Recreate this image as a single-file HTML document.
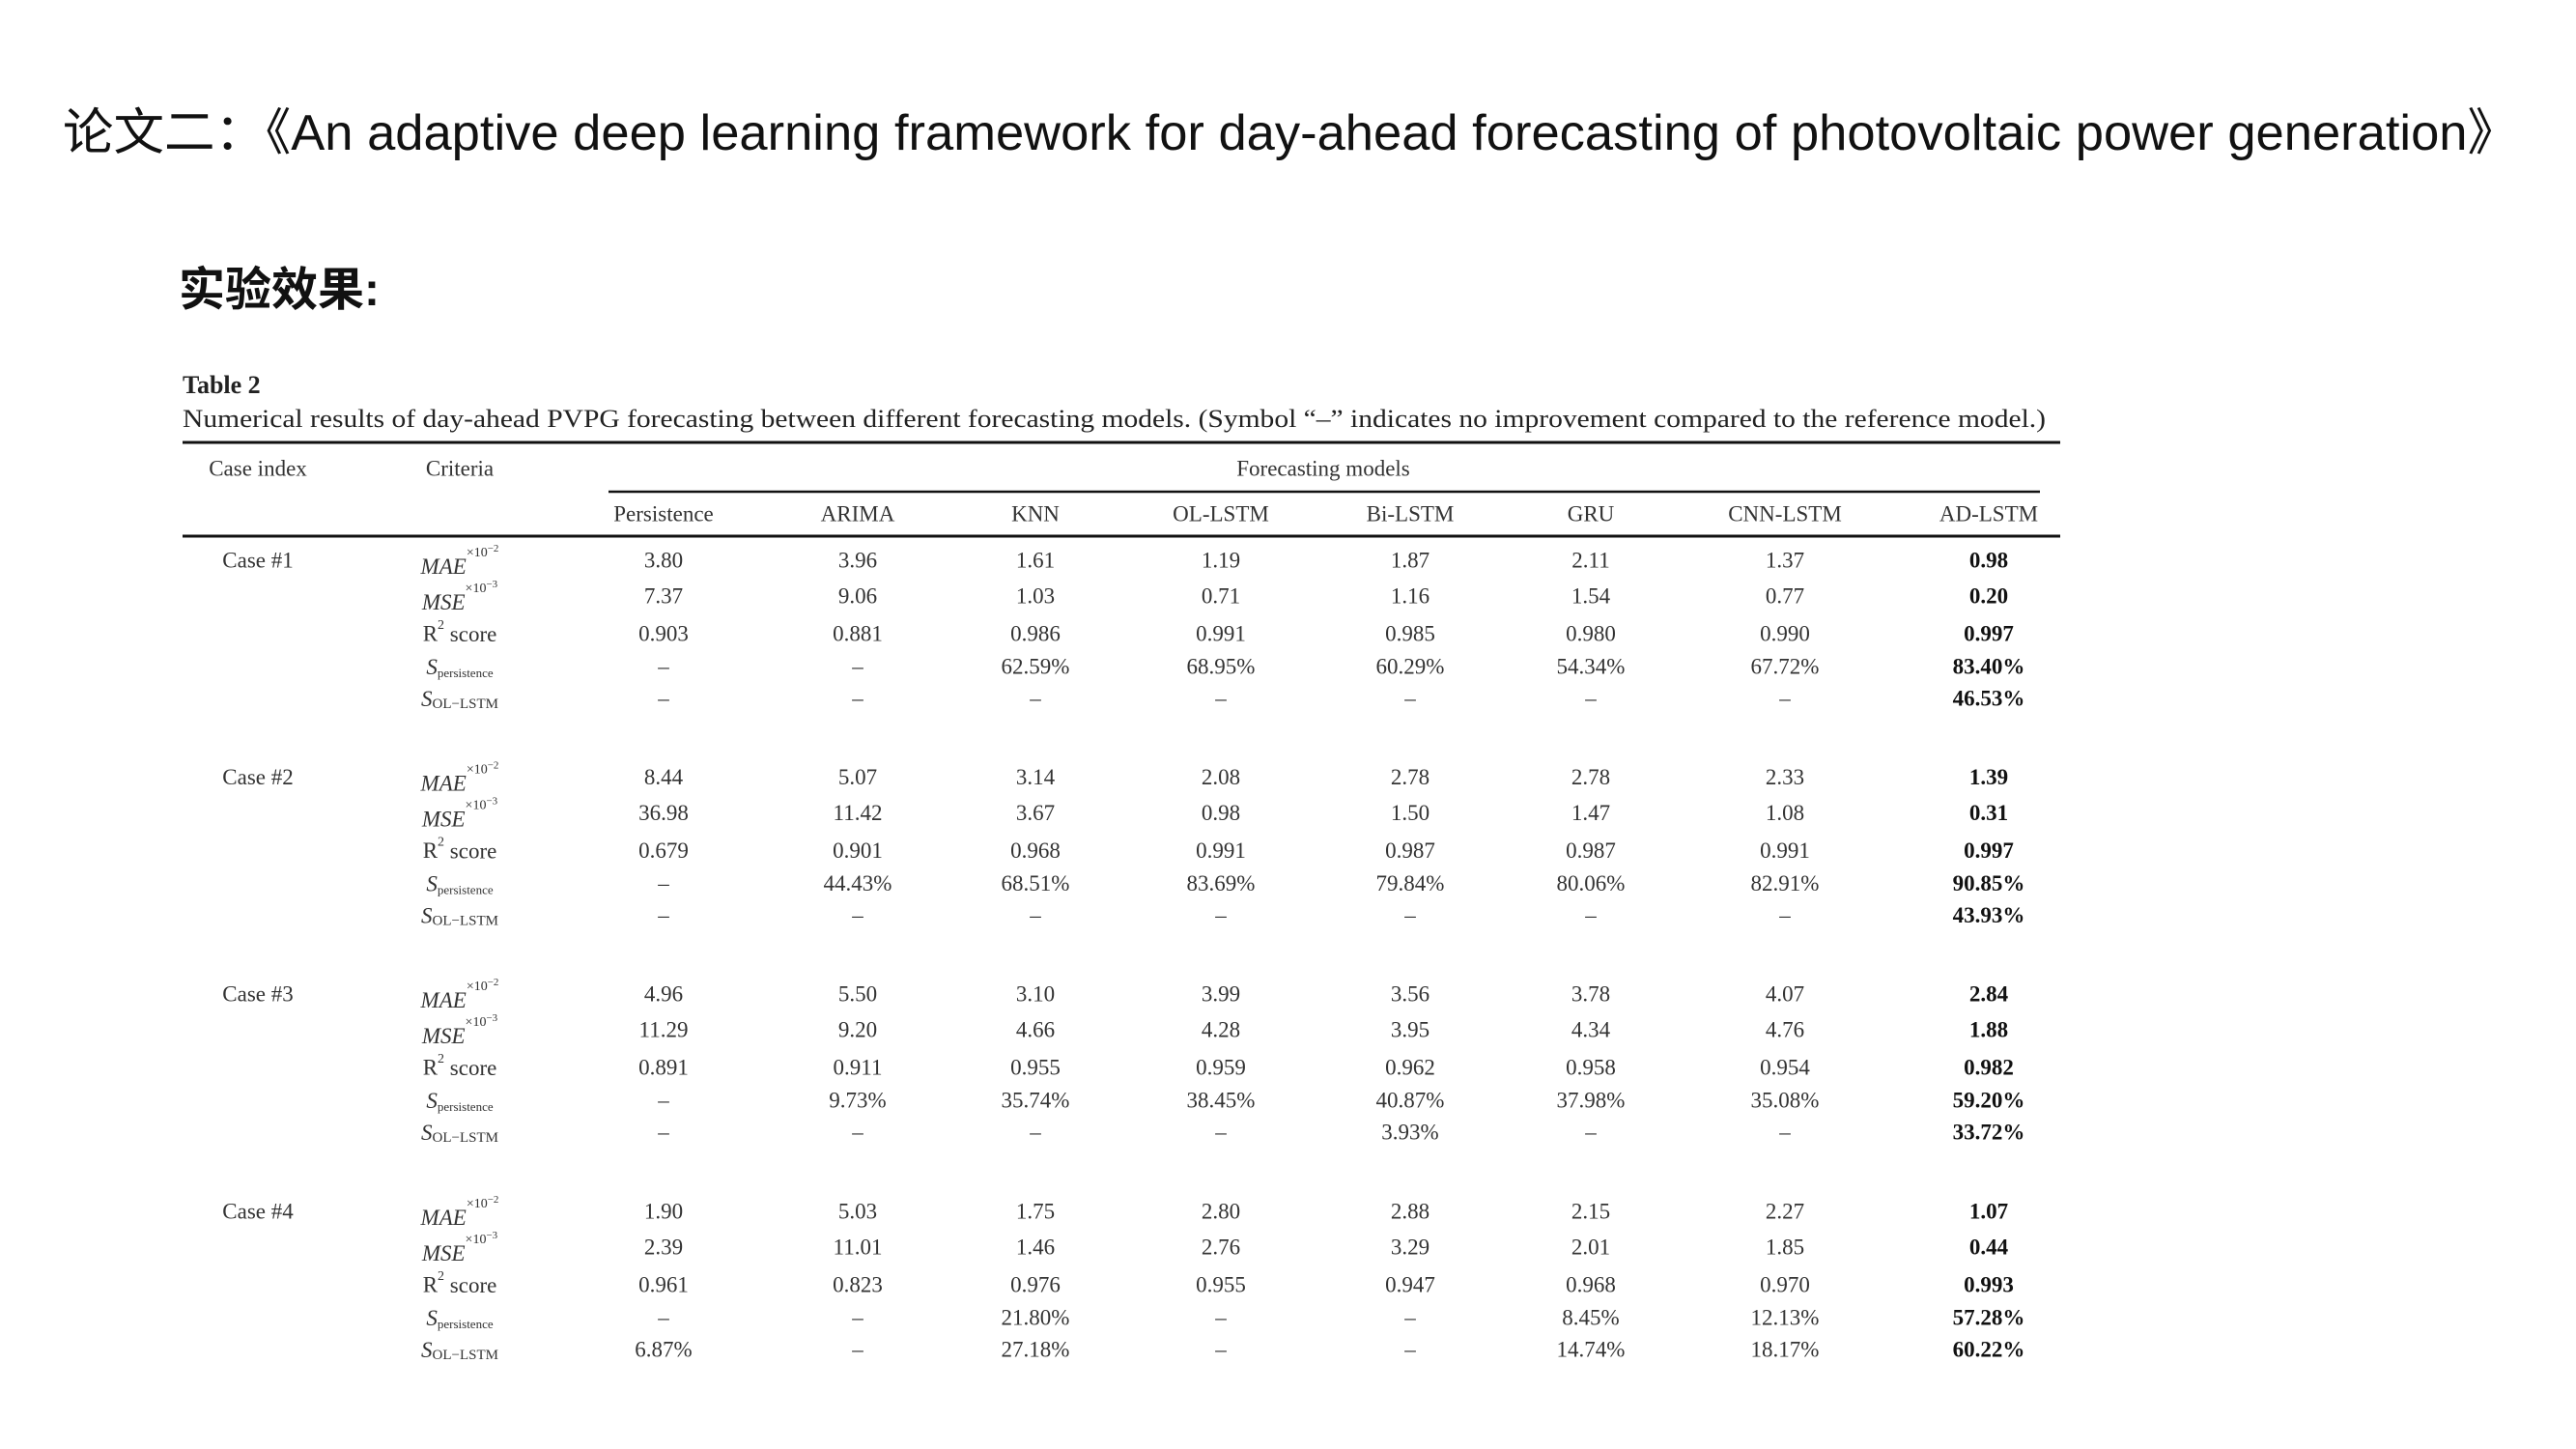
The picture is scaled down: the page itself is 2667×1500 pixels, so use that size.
<!DOCTYPE html>
<html><head><meta charset="utf-8"><style>
html,body{margin:0;padding:0;background:#fff;}
svg{display:block;}
</style></head><body>
<svg id="s" width="2667" height="1500" viewBox="0 0 2667 1500" xmlns="http://www.w3.org/2000/svg">
<text x="65" y="155" font-family="'Liberation Sans','Noto Sans CJK SC',sans-serif" font-size="52" fill="#111" textLength="2542" lengthAdjust="spacingAndGlyphs">论文二：《An adaptive deep learning framework for day-ahead forecasting of photovoltaic power generation》</text>
<text x="185" y="316" font-family="'Liberation Sans','Noto Sans CJK SC',sans-serif" font-size="48" font-weight="bold" fill="#111">实验效果:</text>
<text x="189" y="407" font-family="'Liberation Serif',serif" font-size="26" font-weight="bold" fill="#222">Table 2</text>
<text x="189" y="442" font-family="'Liberation Serif',serif" font-size="26" fill="#222" textLength="1929" lengthAdjust="spacingAndGlyphs">Numerical results of day-ahead PVPG forecasting between different forecasting models. (Symbol “–” indicates no improvement compared to the reference model.)</text>
<line x1="189" y1="458" x2="2133" y2="458" stroke="#111" stroke-width="3"/>
<line x1="630" y1="509" x2="2112" y2="509" stroke="#111" stroke-width="2.5"/>
<line x1="189" y1="555" x2="2133" y2="555" stroke="#111" stroke-width="3"/>
<g id="tbl" font-family="'Liberation Serif',serif" font-size="23" fill="#333"></g>
</svg>
<script>
const models = ["Persistence","ARIMA","KNN","OL-LSTM","Bi-LSTM","GRU","CNN-LSTM","AD-LSTM"];
const cases = ["Case #1","Case #2","Case #3","Case #4"];
const case1 = [
 ["3.80","3.96","1.61","1.19","1.87","2.11","1.37","0.98"],
 ["7.37","9.06","1.03","0.71","1.16","1.54","0.77","0.20"],
 ["0.903","0.881","0.986","0.991","0.985","0.980","0.990","0.997"],
 ["–","–","62.59%","68.95%","60.29%","54.34%","67.72%","83.40%"],
 ["–","–","–","–","–","–","–","46.53%"]];
const case2 = [
 ["8.44","5.07","3.14","2.08","2.78","2.78","2.33","1.39"],
 ["36.98","11.42","3.67","0.98","1.50","1.47","1.08","0.31"],
 ["0.679","0.901","0.968","0.991","0.987","0.987","0.991","0.997"],
 ["–","44.43%","68.51%","83.69%","79.84%","80.06%","82.91%","90.85%"],
 ["–","–","–","–","–","–","–","43.93%"]];
const case3 = [
 ["4.96","5.50","3.10","3.99","3.56","3.78","4.07","2.84"],
 ["11.29","9.20","4.66","4.28","3.95","4.34","4.76","1.88"],
 ["0.891","0.911","0.955","0.959","0.962","0.958","0.954","0.982"],
 ["–","9.73%","35.74%","38.45%","40.87%","37.98%","35.08%","59.20%"],
 ["–","–","–","–","3.93%","–","–","33.72%"]];
const case4 = [
 ["1.90","5.03","1.75","2.80","2.88","2.15","2.27","1.07"],
 ["2.39","11.01","1.46","2.76","3.29","2.01","1.85","0.44"],
 ["0.961","0.823","0.976","0.955","0.947","0.968","0.970","0.993"],
 ["–","–","21.80%","–","–","8.45%","12.13%","57.28%"],
 ["6.87%","–","27.18%","–","–","14.74%","18.17%","60.22%"]];
const allCases = [case1,case2,case3,case4];

const NS="http://www.w3.org/2000/svg";
const g=document.getElementById('tbl');
const colX=[687,888,1072,1264,1460,1647,1848,2059];
const rowOff=[0,37,76,110,143];
const caseY0=580, caseStep=224.6;
function t(x,y,str,anchor){
  const e=document.createElementNS(NS,'text');
  e.setAttribute('x',x);e.setAttribute('y',y);
  e.setAttribute('text-anchor',anchor||'middle');
  e.setAttribute('dominant-baseline','central');
  e.textContent=str;g.appendChild(e);return e;
}
let e;
e=t(267,485,"Case index");


e=t(476,485,"Criteria");


e=t(1370,485,"Forecasting models");


models.forEach((m,i)=>{
  const h=t(colX[i],532,m);
  
  
});
function crit(y,k){
  const e=document.createElementNS(NS,'text');
  e.setAttribute('x',476);e.setAttribute('y',y);
  e.setAttribute('text-anchor','middle');e.setAttribute('dominant-baseline','central');
  if(k===0||k===1){
    e.innerHTML='<tspan font-style="italic" dy="6">'+(k?'MSE':'MAE')+'</tspan><tspan font-size="14" dy="-14">×10<tspan font-size="11" dy="-4">−'+(k?3:2)+'</tspan></tspan>';
  }else if(k===2){
    e.innerHTML='R<tspan font-size="14" dy="-9">2</tspan><tspan dy="9"> score</tspan>';
  }else if(k===3){
    e.innerHTML='<tspan font-style="italic">S</tspan><tspan font-size="13" dy="6">persistence</tspan>';
  }else{
    e.innerHTML='<tspan font-style="italic">S</tspan><tspan font-size="15" dy="6">OL−LSTM</tspan>';
  }
  g.appendChild(e);return e;
}
allCases.forEach((cd,ci)=>{
  const y0=caseY0+ci*caseStep;
  const c=t(267,y0,cases[ci]);
  
  
  cd.forEach((row,ri)=>{
    const y=y0+rowOff[ri];
    const cr=crit(y,ri);
    
    
    row.forEach((v,mi)=>{
      const cell=t(colX[mi],y,v);
      if(mi===7){cell.setAttribute('font-weight','bold');cell.setAttribute('fill','#111');}
      
      
    });
  });
});
</script>
</body></html>
